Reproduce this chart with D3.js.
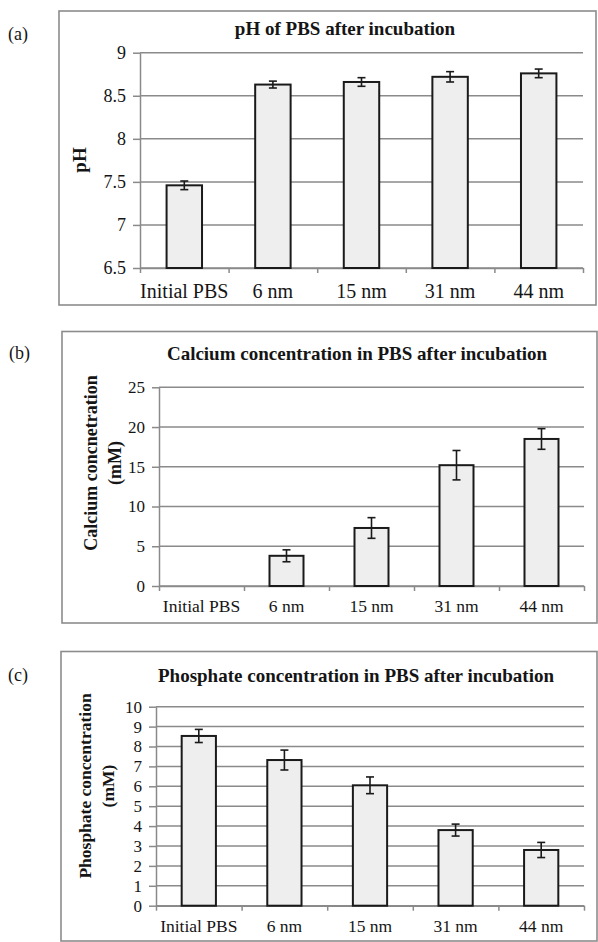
<!DOCTYPE html>
<html>
<head>
<meta charset="utf-8">
<script src="https://cdn.jsdelivr.net/npm/d3@7"></script>
<style>
  html, body { margin: 0; padding: 0; background: #fff; }
  svg { display: block; }
  svg text { font-family: "Liberation Serif", "Times New Roman", Times, serif !important; fill: #151515; }
</style>
</head>
<body>
<svg id="chart" width="598" height="942"></svg>
<script>
// ---- data ----
const categories = ["Initial PBS", "6 nm", "15 nm", "31 nm", "44 nm"];

const phValues = [7.46, 8.63, 8.66, 8.72, 8.76];
const phErrors = [0.05, 0.04, 0.05, 0.06, 0.05];
const phTicks = [6.5, 7, 7.5, 8, 8.5, 9];

const caValues = [0, 3.8, 7.3, 15.2, 18.5];
const caErrors = [0, 0.75, 1.3, 1.85, 1.3];
const caTicks = [0, 5, 10, 15, 20, 25];

const poValues = [8.53, 7.32, 6.05, 3.8, 2.8];
const poErrors = [0.33, 0.5, 0.42, 0.3, 0.38];
const poTicks = [0, 1, 2, 3, 4, 5, 6, 7, 8, 9, 10];

const titles = [
  "pH of PBS after incubation",
  "Calcium concentration in PBS after incubation",
  "Phosphate concentration in PBS after incubation"
];
const yLabels = [
  ["pH"],
  ["Calcium concnetration", "(mM)"],
  ["Phosphate concentration", "(mM)"]
];
const panelTags = ["(a)", "(b)", "(c)"];

// ---- layout ----
const svg = d3.select("#chart");
const GRID = "#8a8a8a";
const SERIF = "'Liberation Serif', 'Times New Roman', serif";

const panels = [
  {
    values: phValues, errors: phErrors, ticks: phTicks, domain: [6.5, 9],
    frame: {x0: 59, y0: 11, x1: 596, y1: 305},
    plot: {left: 140, right: 583, top: 52.7, bottom: 268},
    title: {x: 345, y: 35, size: 19},
    ylab: {xs: [79], cy: 160, size: 19},
    tag: {x: 8, y: 40},
    tickSize: 18, xSize: 20, xLabelY: 298
  },
  {
    values: caValues, errors: caErrors, ticks: caTicks, domain: [0, 25],
    frame: {x0: 62, y0: 331.5, x1: 597, y1: 623},
    plot: {left: 159, right: 584, top: 387.3, bottom: 586},
    title: {x: 357, y: 360, size: 19},
    ylab: {xs: [91, 115], cy: 463, size: 18},
    tag: {x: 9, y: 359},
    tickSize: 17, xSize: 17.5, xLabelY: 612
  },
  {
    values: poValues, errors: poErrors, ticks: poTicks, domain: [0, 10],
    frame: {x0: 61, y0: 651.5, x1: 597, y1: 941},
    plot: {left: 156, right: 584, top: 706.7, bottom: 905.7},
    title: {x: 356, y: 682, size: 19},
    ylab: {xs: [85, 108], cy: 786, size: 17.5},
    tag: {x: 8, y: 681},
    tickSize: 17, xSize: 17.5, xLabelY: 932
  }
];

panels.forEach((p, i) => {
  const g = svg.append("g");

  // frame
  g.append("rect")
    .attr("x", p.frame.x0).attr("y", p.frame.y0)
    .attr("width", p.frame.x1 - p.frame.x0).attr("height", p.frame.y1 - p.frame.y0)
    .attr("fill", "none").attr("stroke", "#8c8c8c").attr("stroke-width", 1.6);

  // panel tag
  g.append("text").attr("x", p.tag.x).attr("y", p.tag.y)
    .style("font-family", SERIF).style("font-size", "18px").text(panelTags[i]);

  // title
  g.append("text").attr("x", p.title.x).attr("y", p.title.y)
    .attr("text-anchor", "middle")
    .style("font-family", SERIF).style("font-weight", "bold")
    .style("font-size", p.title.size + "px").text(titles[i]);

  // y label
  yLabels[i].forEach((line, k) => {
    g.append("text")
      .attr("transform", `translate(${p.ylab.xs[k]},${p.ylab.cy}) rotate(-90)`)
      .attr("text-anchor", "middle").attr("dominant-baseline", "central")
      .style("font-family", SERIF).style("font-weight", "bold")
      .style("font-size", p.ylab.size + "px").text(line);
  });

  const x = d3.scaleBand().domain(categories)
    .range([p.plot.left, p.plot.right]).paddingInner(0.6).paddingOuter(0.3);
  const y = d3.scaleLinear().domain(p.domain).range([p.plot.bottom, p.plot.top]);
  const xb = d3.scaleLinear().domain([0, categories.length]).range([p.plot.left, p.plot.right]);

  // gridlines
  g.append("g").selectAll("line").data(p.ticks).join("line")
    .attr("x1", p.plot.left).attr("x2", p.plot.right)
    .attr("y1", d => y(d)).attr("y2", d => y(d))
    .attr("stroke", GRID).attr("stroke-width", 1.5);

  // y axis
  const ya = g.append("g").attr("transform", `translate(${p.plot.left},0)`)
    .call(d3.axisLeft(y).tickValues(p.ticks).tickFormat(d3.format("~g"))
      .tickSize(7).tickPadding(7).tickSizeOuter(0));
  ya.attr("font-family", null).attr("font-size", null);
  ya.select(".domain").attr("stroke", GRID).attr("stroke-width", 1.5);
  ya.selectAll(".tick line").attr("stroke", GRID).attr("stroke-width", 1.5);
  ya.selectAll(".tick text")
    .style("font-family", SERIF).style("font-size", p.tickSize + "px").style("fill", "#151515");

  // x axis (boundary ticks)
  const xa = g.append("g").attr("transform", `translate(0,${p.plot.bottom})`)
    .call(d3.axisBottom(xb).tickValues(d3.range(categories.length + 1)).tickFormat("")
      .tickSize(5).tickSizeOuter(0));
  xa.select(".domain").attr("stroke", GRID).attr("stroke-width", 1.5);
  xa.selectAll(".tick line").attr("stroke", GRID).attr("stroke-width", 1.5);

  // x labels
  g.append("g").selectAll("text").data(categories).join("text")
    .attr("x", d => x(d) + x.bandwidth() / 2).attr("y", p.xLabelY)
    .attr("text-anchor", "middle")
    .style("font-family", SERIF).style("font-size", p.xSize + "px").text(d => d);

  const data = categories.map((c, j) => ({c, v: p.values[j], e: p.errors[j]}));

  // bars
  g.append("g").selectAll("rect").data(data.filter(d => d.v > p.domain[0])).join("rect")
    .attr("x", d => x(d.c)).attr("width", x.bandwidth())
    .attr("y", d => y(d.v)).attr("height", d => y(p.domain[0]) - y(d.v))
    .attr("fill", "#eeeeee").attr("stroke", "#1a1a1a").attr("stroke-width", 2);

  // error bars
  const eb = g.append("g").selectAll("g").data(data.filter(d => d.e > 0)).join("g")
    .attr("stroke", "#1a1a1a").attr("stroke-width", 1.6);
  const cx = d => x(d.c) + x.bandwidth() / 2;
  eb.append("line").attr("x1", cx).attr("x2", cx)
    .attr("y1", d => y(d.v + d.e)).attr("y2", d => y(d.v - d.e));
  eb.append("line").attr("x1", d => cx(d) - 4).attr("x2", d => cx(d) + 4)
    .attr("y1", d => y(d.v + d.e)).attr("y2", d => y(d.v + d.e));
  eb.append("line").attr("x1", d => cx(d) - 4).attr("x2", d => cx(d) + 4)
    .attr("y1", d => y(d.v - d.e)).attr("y2", d => y(d.v - d.e));
});
</script>
</body>
</html>
